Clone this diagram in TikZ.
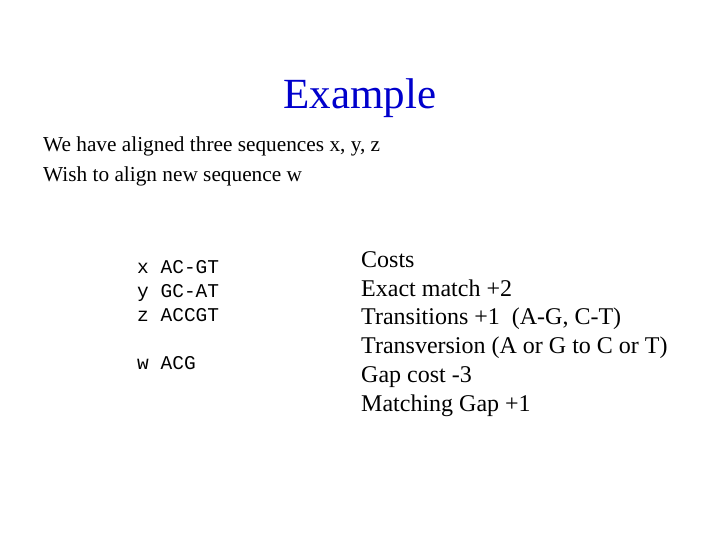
\documentclass[tikz,border=0pt]{standalone}
\usepackage{fontspec}
\setmainfont{Liberation Serif}
\newfontfamily\monof{Liberation Mono}
\definecolor{titleblue}{RGB}{0,0,204}
\begin{document}
\begin{tikzpicture}[x=1pt,y=-1pt,
  body/.style={anchor=base west,inner sep=0pt,font=\fontsize{21.3}{24}\selectfont},
  mono/.style={anchor=base west,inner sep=0pt,font=\monof\fontsize{19.5}{22}\selectfont},
  cost/.style={anchor=base west,inner sep=0pt,font=\fontsize{24}{27}\selectfont}]
\useasboundingbox (0,0) rectangle (720,540);
\node[anchor=base,inner sep=0pt,text=titleblue,font=\fontsize{43}{47}\selectfont] (title) at (360,109) {Example};
\node[body] (l1) at (43,152) {We have aligned three sequences x, y, z};
\node[body] (l2) at (43,182) {Wish to align new sequence w};
\node[mono] (x) at (137,273) {x AC-GT};
\node[mono] (y) at (137,297) {y GC-AT};
\node[mono] (z) at (137,321) {z ACCGT};
\node[mono] (w) at (137,369) {w ACG};
\node[cost] (c1) at (361,267) {Costs};
\node[cost] (c2) at (361,296) {Exact match +2};
\node[cost] (c3) at (361,324) {Transitions +1\ \ (A-G, C-T)};
\node[cost] (c4) at (361,353) {Transversion (A or G to C or T)};
\node[cost] (c5) at (361,382) {Gap cost -3};
\node[cost] (c6) at (361,411) {Matching Gap +1};
\end{tikzpicture}
\end{document}
